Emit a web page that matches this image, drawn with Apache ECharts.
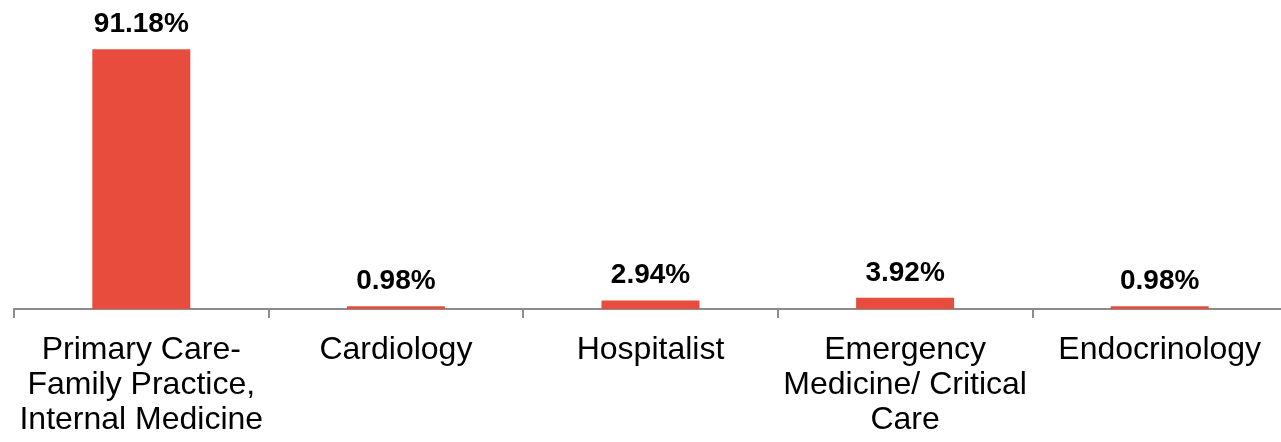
<!DOCTYPE html>
<html>
<head>
<meta charset="utf-8">
<script src="https://cdn.jsdelivr.net/npm/echarts@6/dist/echarts.min.js"></script>
<style>
  html, body { margin: 0; padding: 0; background: #fff; overflow: hidden; }
  /* the plot runs a few pixels past the right edge of the window */
  #chart { width: 1287px; height: 442px; }
</style>
</head>
<body>
<div id="chart"></div>
<script>
// Specialty categories (line breaks as shown under the axis)
const categories = [
  'Primary Care-\nFamily Practice,\nInternal Medicine',
  'Cardiology',
  'Hospitalist',
  'Emergency\nMedicine/ Critical\nCare',
  'Endocrinology'
];
// Share of respondents per specialty, in percent
const shares = [91.18, 0.98, 2.94, 3.92, 0.98];

const chart = echarts.init(document.getElementById('chart'), null, { renderer: 'canvas' });

chart.setOption({
  animation: false,
  backgroundColor: '#ffffff',
  grid: { left: 14, top: 24, bottom: 133, right: 0, containLabel: false },
  xAxis: {
    type: 'category',
    data: categories,
    boundaryGap: true,
    axisLine: { show: true, lineStyle: { color: '#8c8c8c', width: 2 } },
    axisTick: { show: true, alignWithLabel: false, length: 9, lineStyle: { color: '#8c8c8c', width: 2 } },
    axisLabel: {
      interval: 0,
      margin: 24,
      color: '#000000',
      fontFamily: 'Liberation Sans, Arial, sans-serif',
      fontSize: 32,
      lineHeight: 35
    }
  },
  yAxis: {
    type: 'value',
    min: 0,
    max: 100,
    show: false,
    splitLine: { show: false }
  },
  series: [{
    type: 'bar',
    data: shares,
    barWidth: 98,
    itemStyle: { color: '#E84C3D' },
    label: {
      show: true,
      position: 'top',
      distance: 11,
      color: '#000000',
      fontFamily: 'Liberation Sans, Arial, sans-serif',
      fontWeight: 'bold',
      fontSize: 28,
      formatter: p => p.value.toFixed(2) + '%'
    }
  }]
});
</script>
</body>
</html>
